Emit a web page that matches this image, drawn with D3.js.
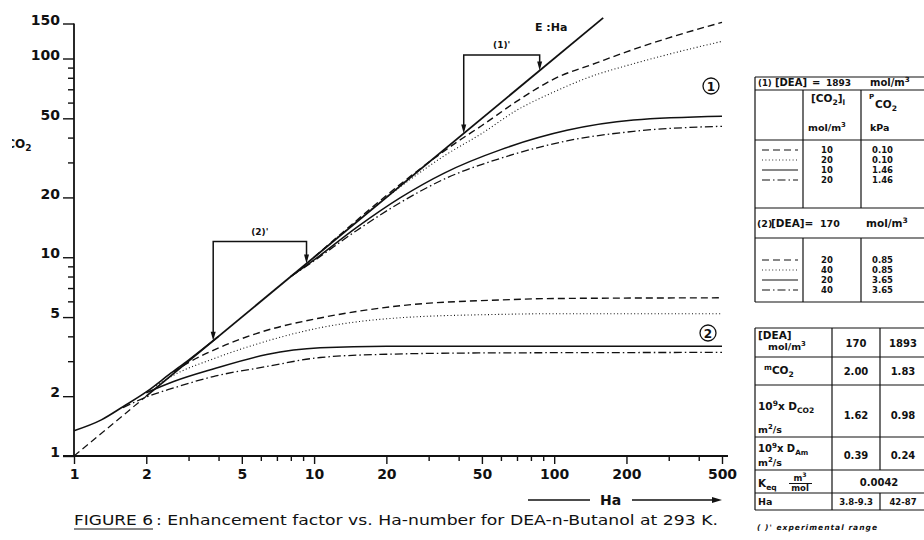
<!DOCTYPE html>
<html>
<head>
<meta charset="utf-8">
<script src="https://cdn.jsdelivr.net/npm/d3@7"></script>
<style>
  body { margin: 0; background: #fff; }
  svg { display: block; }
  text { font-family: "DejaVu Sans", sans-serif; fill: #111; }
  .tbl text { font-family: "DejaVu Sans", sans-serif; font-weight: bold; }
</style>
</head>
<body>
<div id="chart"></div>
<script>
// axis ticks
const haTicks = [1, 2, 5, 10, 20, 50, 100, 200, 500];
const haMinor = [3, 4, 6, 7, 8, 9, 30, 40, 60, 70, 80, 90, 300, 400];
const eTicks = [1, 2, 5, 10, 20, 50, 100, 150];
const eMinor = [3, 4, 6, 7, 8, 9, 30, 40, 60, 70, 80, 90];

// E = Ha asymptote (dashed below Ha=2)
const eqHa = [1, 2, 160];
const eqE = [1, 2, 160];
// pseudo first order curve, merges with E = Ha
const baseHa = [1, 1.3, 1.6, 2, 2.5, 3, 4];
const baseE = [1.34, 1.52, 1.77, 2.1, 2.58, 3.04, 4.0];

// (1) [DEA] = 1893 mol/m3
const g1DashHa = [10, 30, 40, 50, 70, 100, 150, 200, 300, 500];
const g1DashE = [10, 30, 38.5, 46, 61, 79, 95, 108, 127, 152];
const g1DotHa = [10, 25, 35, 50, 70, 100, 150, 200, 300, 500];
const g1DotE = [10, 24.5, 32.5, 42, 55, 68, 83, 92, 105, 122];
const g1SolidHa = [8, 10, 15, 22.8, 35, 60, 113, 214, 500];
const g1SolidE = [8, 9.7, 14.1, 19.9, 26.6, 34.8, 43.5, 49, 51.2];
const g1DashDotHa = [8, 10, 15, 22.8, 35, 60, 113, 214, 500];
const g1DashDotE = [8, 9.6, 13.6, 18.8, 24.8, 31.5, 38.5, 43, 45.6];

// (2) [DEA] = 170 mol/m3
const g2DashHa = [2.6, 3, 3.8, 6, 10.6, 22.8, 60, 100, 500];
const g2DashE = [2.65, 2.95, 3.4, 4.2, 4.95, 5.7, 6.1, 6.2, 6.25];
const g2DotHa = [2.2, 2.6, 3.8, 6, 10.6, 22.8, 60, 100, 500];
const g2DotE = [2.25, 2.55, 3.08, 3.71, 4.42, 4.96, 5.16, 5.2, 5.2];
const g2SolidHa = [2, 2.6, 3.8, 6.35, 10.6, 20, 500];
const g2SolidE = [2.08, 2.37, 2.74, 3.24, 3.5, 3.57, 3.57];
const g2DashDotHa = [1.6, 2, 2.6, 3.8, 6.35, 10.6, 20, 50, 500];
const g2DashDotE = [1.75, 1.98, 2.2, 2.51, 2.82, 3.13, 3.25, 3.3, 3.32];

// experimental Ha ranges
const rangeLabels = ["(2)'", "(1)'"];
const rangeLow = [3.8, 42];
const rangeHigh = [9.3, 87];
const rangeTop = [12, 104];

// table contents
const legendStyles = ['dash', 'dot', 'solid', 'dashdot'];
const co2Liq1 = ['10', '20', '10', '20'];
const pCo2_1 = ['0.10', '0.10', '1.46', '1.46'];
const co2Liq2 = ['20', '40', '20', '40'];
const pCo2_2 = ['0.85', '0.85', '3.65', '3.65'];
const deaConc = ['170', '1893'];
const mCo2 = ['2.00', '1.83'];
const dCo2 = ['1.62', '0.98'];
const dAm = ['0.39', '0.24'];
const kEq = '0.0042';
const haRange = ['3.8-9.3', '42-87'];

const styles = {
  dash: { dash: '7,4', w: 1.4 },
  dot: { dash: '1,2.4', w: 1.1 },
  solid: { dash: null, w: 1.5 },
  dashdot: { dash: '8,3,1.5,3', w: 1.3 }
};

const W = 924, H = 540;
const svg = d3.select('#chart').append('svg').attr('width', W).attr('height', H);

const x = d3.scaleLog().domain([1, 500]).range([74, 722]);
const y = d3.scaleLog().domain([1, 150]).range([456, 23.5]);

// axes
const xAxis = svg.append('g').attr('transform', `translate(0,${y(1)})`)
  .call(d3.axisBottom(x).tickValues(haTicks).tickFormat(d3.format('d')).tickSize(8).tickPadding(5).tickSizeOuter(0));
xAxis.select('.domain').remove();
xAxis.selectAll('text').attr('font-size', 14).attr('font-weight', 'bold').attr('font-family', 'DejaVu Sans');
svg.append('g').attr('transform', `translate(0,${y(1)})`)
  .call(d3.axisBottom(x).tickValues(haMinor).tickFormat('').tickSize(5).tickSizeOuter(0))
  .select('.domain').remove();

const yAxis = svg.append('g').attr('transform', `translate(${x(1)},0)`)
  .call(d3.axisLeft(y).tickValues(eTicks).tickFormat(d3.format('d')).tickSize(11).tickPadding(3).tickSizeOuter(0));
yAxis.select('.domain').remove();
yAxis.selectAll('text').attr('font-size', 14).attr('font-weight', 'bold').attr('dy', '0.05em').attr('font-family', 'DejaVu Sans');
svg.append('g').attr('transform', `translate(${x(1)},0)`)
  .call(d3.axisLeft(y).tickValues(eMinor).tickFormat('').tickSize(6).tickSizeOuter(0))
  .select('.domain').remove();
svg.selectAll('.tick line').attr('stroke', '#111').attr('stroke-width', 1.4);

svg.append('line').attr('x1', 63).attr('x2', 728).attr('y1', y(1)).attr('y2', y(1))
  .attr('stroke', '#111').attr('stroke-width', 1.8);
svg.append('line').attr('x1', x(1)).attr('x2', x(1)).attr('y1', y(150)).attr('y2', y(1))
  .attr('stroke', '#111').attr('stroke-width', 1.8);

// y label, cut at the left edge as in the scan
svg.append('clipPath').attr('id', 'lclip').append('rect').attr('x', 12).attr('y', 0).attr('width', 60).attr('height', 540);
const yl = svg.append('text').attr('clip-path', 'url(#lclip)').attr('x', 15).attr('y', 148)
  .attr('font-size', 12).attr('font-weight', 'bold').attr('text-anchor', 'start');
yl.append('tspan').text('O');
yl.append('tspan').text('2').attr('font-size', 9).attr('dy', 3);
svg.append('text').attr('clip-path', 'url(#lclip)').attr('x', 15).attr('y', 148)
  .attr('font-size', 12).attr('font-weight', 'bold').attr('text-anchor', 'end').text('E C');

// curves
const line = d3.line().x(d => x(d[0])).y(d => y(d[1])).curve(d3.curveMonotoneX);
const zip = (a, b) => a.map((v, i) => [v, b[i]]);
const series = [
  { pts: zip(eqHa, eqE).slice(0, 2), s: 'dash', w: 1.2 },
  { pts: zip(eqHa, eqE).slice(1), s: 'solid', w: 1.8 },
  { pts: zip(baseHa, baseE), s: 'solid', w: 1.6 },
  { pts: zip(g1DashHa, g1DashE), s: 'dash' },
  { pts: zip(g1DotHa, g1DotE), s: 'dot' },
  { pts: zip(g1SolidHa, g1SolidE), s: 'solid' },
  { pts: zip(g1DashDotHa, g1DashDotE), s: 'dashdot' },
  { pts: zip(g2DashHa, g2DashE), s: 'dash' },
  { pts: zip(g2DotHa, g2DotE), s: 'dot' },
  { pts: zip(g2SolidHa, g2SolidE), s: 'solid' },
  { pts: zip(g2DashDotHa, g2DashDotE), s: 'dashdot' }
];
svg.append('g').selectAll('path').data(series).join('path')
  .attr('d', d => line(d.pts))
  .attr('fill', 'none').attr('stroke', '#111')
  .attr('stroke-width', d => d.w || styles[d.s].w)
  .attr('stroke-dasharray', d => styles[d.s].dash);

// experimental range brackets
const arrow = (g, px, py) => g.append('path')
  .attr('d', `M${px - 2.5},${py - 9}L${px + 2.5},${py - 9}L${px},${py}Z`).attr('fill', '#111');
rangeLabels.forEach((lab, i) => {
  const g = svg.append('g');
  const xa = x(rangeLow[i]), xb = x(rangeHigh[i]), yt = y(rangeTop[i]);
  g.append('path').attr('fill', 'none').attr('stroke', '#111').attr('stroke-width', 1.5)
    .attr('d', `M${xa},${y(rangeLow[i]) - 4}V${yt}H${xb}V${y(rangeHigh[i]) - 4}`);
  arrow(g, xa, y(rangeLow[i]));
  arrow(g, xb, y(rangeHigh[i]));
  g.append('text').attr('x', (xa + xb) / 2).attr('y', yt - 7).attr('text-anchor', 'middle')
    .attr('font-size', 9).attr('font-weight', 'bold').text(lab);
});

svg.append('text').attr('x', 535).attr('y', 31).attr('font-size', 11).attr('font-weight', 'bold').text('E :Ha');

// circled group labels
[[711, 86, '1'], [708, 333, '2']].forEach(([cx, cy, t]) => {
  svg.append('circle').attr('cx', cx).attr('cy', cy).attr('r', 8).attr('fill', 'none')
    .attr('stroke', '#111').attr('stroke-width', 1.3);
  svg.append('text').attr('x', cx).attr('y', cy + 4.5).attr('text-anchor', 'middle')
    .attr('font-size', 12).attr('font-weight', 'bold').text(t);
});

// Ha axis title with arrow
svg.append('line').attr('x1', 528).attr('x2', 590).attr('y1', 500).attr('y2', 500).attr('stroke', '#111').attr('stroke-width', 1.3);
svg.append('line').attr('x1', 632).attr('x2', 714).attr('y1', 500).attr('y2', 500).attr('stroke', '#111').attr('stroke-width', 1.3);
svg.append('path').attr('d', 'M712,497L722,500L712,503Z').attr('fill', '#111');
svg.append('text').attr('x', 600).attr('y', 505).attr('font-size', 14).attr('font-weight', 'bold').text('Ha');

// caption
svg.append('text').attr('x', 74).attr('y', 525).attr('font-size', 14)
  .attr('textLength', 79).attr('lengthAdjust', 'spacingAndGlyphs').text('FIGURE 6');
svg.append('line').attr('x1', 74).attr('x2', 153).attr('y1', 529).attr('y2', 529).attr('stroke', '#111').attr('stroke-width', 1);
svg.append('text').attr('x', 156).attr('y', 525).attr('font-size', 14)
  .attr('textLength', 562).attr('lengthAdjust', 'spacingAndGlyphs')
  .text(': Enhancement factor vs. Ha-number for DEA-n-Butanol at 293 K.');

// ---- table ----
const tbl = svg.append('g').attr('class', 'tbl');
const hl = (x1, x2, yy) => tbl.append('line').attr('x1', x1).attr('x2', x2).attr('y1', yy).attr('y2', yy)
  .attr('stroke', '#111').attr('stroke-width', 1.2);
const vl = (xx, y1, y2) => tbl.append('line').attr('x1', xx).attr('x2', xx).attr('y1', y1).attr('y2', y2)
  .attr('stroke', '#111').attr('stroke-width', 1.2);
function rich(px, py, parts, anchor = 'start', size = 10) {
  const t = tbl.append('text').attr('x', px).attr('y', py).attr('text-anchor', anchor).attr('font-size', size);
  let cur = 0;
  parts.forEach(p => {
    const [s, k] = Array.isArray(p) ? p : [p, ''];
    const off = k === 'sub' ? 3 : k === 'sup' ? -4 : 0;
    const ts = t.append('tspan').text(s).attr('dy', off - cur);
    if (k) ts.attr('font-size', size * 0.72);
    cur = off;
  });
  return t;
}

const tx0 = 755, tx1 = 803, tx2 = 861, txR = 930;
// section (1)
hl(tx0, txR, 77); vl(tx0, 77, 302);
rich(758, 86, ['(1)'], 'start', 8.5);
rich(775, 86, ['[DEA]'], 'start', 10);
rich(812, 86, ['='], 'start', 10);
rich(826, 86, ['1893'], 'start', 9);
rich(870, 86, ['mol/m', ['3', 'sup']], 'start', 10);
hl(tx0, txR, 90);
vl(tx1, 90, 208); vl(tx2, 90, 208);
rich(811, 102, ['[CO', ['2', 'sub'], ']', ['l', 'sub']], 'start', 10.5);
rich(808, 131, ['mol/m', ['3', 'sup']], 'start', 9.5);
rich(869, 99, ['P'], 'start', 7);
rich(875, 108, ['CO', ['2', 'sub']], 'start', 10.5);
rich(870, 131, ['kPa'], 'start', 9.5);
hl(tx0, txR, 140);
const rowY1 = [153, 163, 173, 183];
const rowY2 = [263, 273, 283, 293];
function legendRows(rowsY, liq, p) {
  rowsY.forEach((ry, i) => {
    const st = styles[legendStyles[i]];
    tbl.append('line').attr('x1', 762).attr('x2', 798).attr('y1', ry - 3).attr('y2', ry - 3)
      .attr('stroke', '#111').attr('stroke-width', st.w * 0.8).attr('stroke-dasharray', st.dash);
    rich(827, ry, [liq[i]], 'middle', 8.5);
    rich(872, ry, [p[i]], 'start', 8.5);
  });
}
legendRows(rowY1, co2Liq1, pCo2_1);
hl(tx0, txR, 208);
rich(757, 227, ['(2)'], 'start', 9.5);
rich(771, 227, ['[DEA]='], 'start', 10.5);
rich(820, 227, ['170'], 'start', 9.5);
rich(866, 227, ['mol/m', ['3', 'sup']], 'start', 10.5);
hl(tx0, txR, 238);
vl(tx1, 238, 302); vl(tx2, 238, 302);
legendRows(rowY2, co2Liq2, pCo2_2);
hl(tx0, txR, 302);

// properties table
const bx0 = 755, bx1 = 832, bx2 = 880, bxR = 926;
const bRows = [328, 357, 385, 437, 470, 493, 510];
bRows.forEach(r => hl(bx0, bxR, r));
vl(bx0, 328, 510); vl(bxR, 328, 510); vl(bx1, 328, 510);
vl(bx2, 328, 470); vl(bx2, 493, 510);
const c1 = (bx1 + bx2) / 2, c2 = (bx2 + bxR) / 2;
rich(758, 339, ['[DEA]'], 'start', 10.5);
rich(768, 350, ['mol/m', ['3', 'sup']], 'start', 9.5);
rich(c1, 347, [deaConc[0]], 'middle'); rich(c2, 347, [deaConc[1]], 'middle');
rich(764, 374, [['m', 'sup'], 'CO', ['2', 'sub']], 'start', 10.5);
rich(c1, 375, [mCo2[0]], 'middle'); rich(c2, 375, [mCo2[1]], 'middle');
rich(758, 410, ['10', ['9', 'sup'], 'x D', ['CO', 'sub'], ['2', 'sub']], 'start', 10.5);
rich(758, 433, ['m', ['2', 'sup'], '/s'], 'start', 9.5);
rich(c1, 419, [dCo2[0]], 'middle'); rich(c2, 419, [dCo2[1]], 'middle');
rich(758, 452, ['10', ['9', 'sup'], 'x D', ['Am', 'sub']], 'start', 10);
rich(758, 466, ['m', ['2', 'sup'], '/s'], 'start', 9.5);
rich(c1, 459, [dAm[0]], 'middle'); rich(c2, 459, [dAm[1]], 'middle');
rich(758, 487, ['K', ['eq', 'sub']], 'start', 10.5);
rich(800, 481, ['m', ['3', 'sup']], 'middle', 8.5);
tbl.append('line').attr('x1', 789).attr('x2', 812).attr('y1', 483.5).attr('y2', 483.5).attr('stroke', '#111').attr('stroke-width', 1);
rich(800, 491, ['mol'], 'middle', 8.5);
rich((bx1 + bxR) / 2, 486, [kEq], 'middle');
rich(758, 505, ['Ha'], 'start', 9.5);
rich(c1, 505, [haRange[0]], 'middle', 8.5); rich(c2, 505, [haRange[1]], 'middle', 8.5);
rich(757, 530, ["( )' experimental range"], 'start', 7.5)
  .attr('font-style', 'italic').attr('textLength', 120).attr('lengthAdjust', 'spacing');
</script>
</body>
</html>
